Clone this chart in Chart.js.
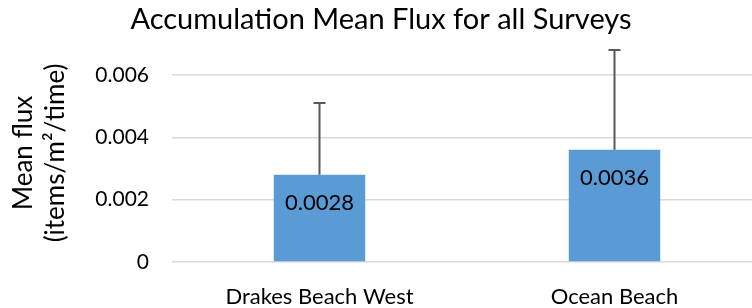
<!DOCTYPE html>
<html>
<head>
<meta charset="utf-8">
<script src="https://cdn.jsdelivr.net/npm/chart.js@4.4.1/dist/chart.umd.min.js"></script>
<style>
  html, body { margin: 0; padding: 0; background: #fff; overflow: hidden; }
  #wrap { width: 770px; height: 308px; position: relative; }
</style>
</head>
<body>
<div id="wrap"><canvas id="fluxChart"></canvas></div>
<script>
// data
const categories = ["Drakes Beach West", "Ocean Beach"];
const meanFlux = [0.0028, 0.0036];
const errorPlus = [0.0023, 0.0032];
const yTicks = [0, 0.002, 0.004, 0.006];

const FONT = "Lato, 'Open Sans', sans-serif";

// error bars (plus side only), drawn from the y scale
const errorBars = {
    id: "errorBars",
    afterDatasetsDraw(chart) {
        const ctx = chart.ctx;
        const y = chart.scales.y;
        const meta = chart.getDatasetMeta(0);
        ctx.save();
        ctx.strokeStyle = "#595959";
        ctx.lineWidth = 2;
        meta.data.forEach((bar, i) => {
            const top = y.getPixelForValue(meanFlux[i] + errorPlus[i]);
            ctx.beginPath();
            ctx.moveTo(bar.x, bar.y);
            ctx.lineTo(bar.x, top);
            ctx.moveTo(bar.x - 6, top);
            ctx.lineTo(bar.x + 6, top);
            ctx.stroke();
        });
        ctx.restore();
    }
};

// value labels just inside the top of each bar
const valueLabels = {
    id: "valueLabels",
    afterDatasetsDraw(chart) {
        const ctx = chart.ctx;
        const meta = chart.getDatasetMeta(0);
        ctx.save();
        ctx.fillStyle = "#000";
        ctx.font = "22px " + FONT;
        ctx.textAlign = "center";
        ctx.textBaseline = "middle";
        meta.data.forEach((bar, i) => {
            ctx.fillText(meanFlux[i].toFixed(4), bar.x, bar.y + 28);
        });
        ctx.restore();
    }
};

const ctx = document.getElementById("fluxChart").getContext("2d");
new Chart(ctx, {
    type: "bar",
    data: {
        labels: categories,
        datasets: [{
            data: meanFlux,
            backgroundColor: "#5B9BD5",
            barPercentage: 0.31,
            categoryPercentage: 1
        }]
    },
    options: {
        responsive: true,
        maintainAspectRatio: false,
        animation: false,
        layout: { padding: { left: 0, right: 8, top: 0, bottom: 0 } },
        plugins: {
            legend: { display: false },
            tooltip: { enabled: false },
            title: {
                display: true,
                text: "Accumulation Mean Flux for all Surveys",
                color: "#000",
                font: { family: FONT, size: 29, weight: "normal", lineHeight: 1.2 },
                padding: { top: 2, bottom: 7 }
            }
        },
        scales: {
            x: {
                grid: { display: false },
                border: { display: false },
                ticks: {
                    color: "#000",
                    font: { family: FONT, size: 22 },
                    padding: 14,
                    maxRotation: 0
                },
                afterFit(scale) { scale.height = 46; }
            },
            y: {
                min: 0,
                max: 0.007,
                afterBuildTicks(scale) {
                    scale.ticks = yTicks.map(v => ({ value: v }));
                },
                grid: { color: "#d9d9d9", lineWidth: 1.5, drawTicks: false },
                border: { display: false },
                ticks: {
                    color: "#000",
                    font: { family: FONT, size: 21 },
                    padding: 23,
                    callback: v => (v === 0 ? "0" : v.toFixed(3))
                },
                title: {
                    display: true,
                    text: ["Mean flux", "(items/m\u00b2/time)"],
                    color: "#000",
                    font: { family: FONT, size: 26, lineHeight: 1.23 },
                    padding: { top: 8, bottom: 0 }
                },
                afterFit(scale) { scale.width = 172; }
            }
        }
    },
    plugins: [errorBars, valueLabels]
});
</script>
</body>
</html>
